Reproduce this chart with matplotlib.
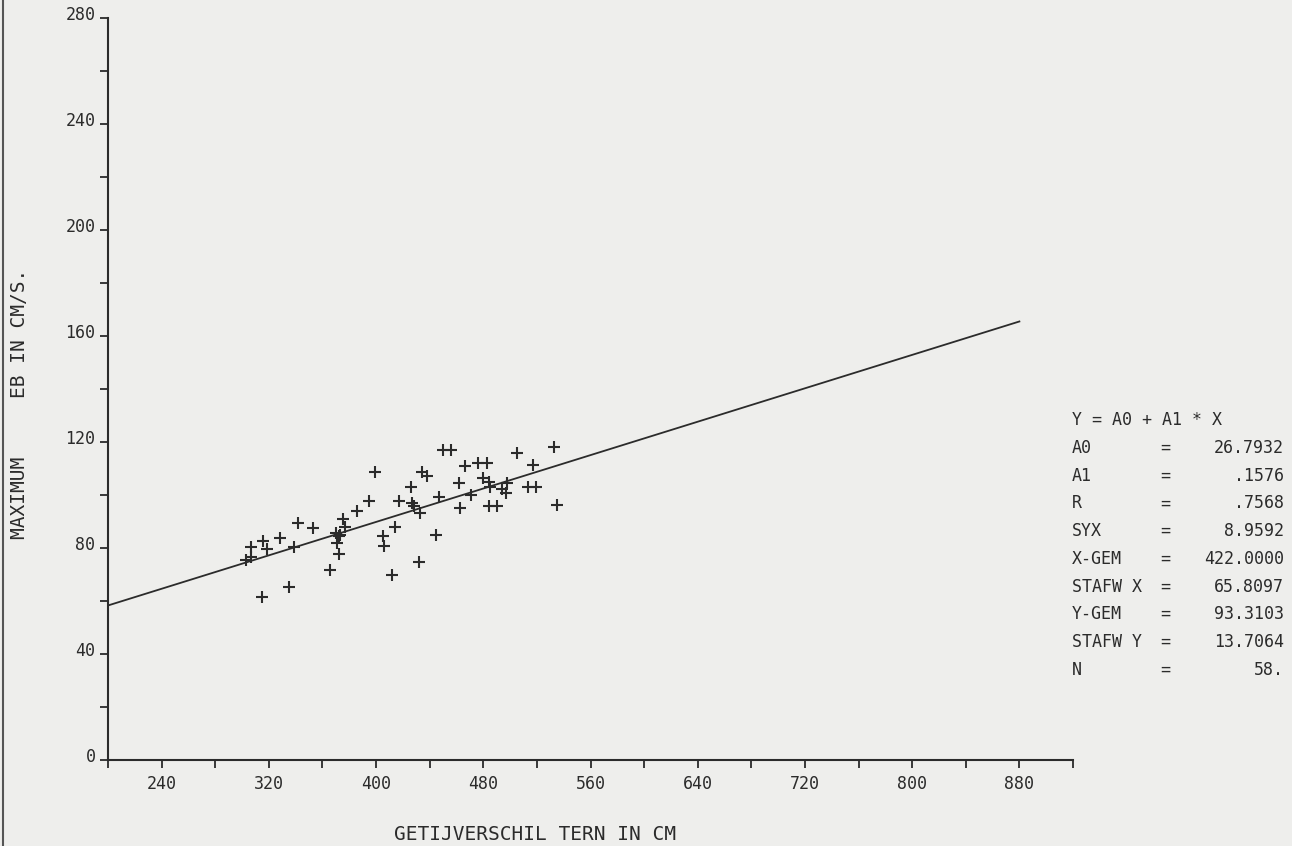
import matplotlib.pyplot as plt
import matplotlib.transforms as mtransforms
from matplotlib.lines import Line2D

# getijverschil (cm) and maximum eb-stroomsnelheid (cm/s)
tide_range = [303, 307, 307, 316, 319, 328, 339, 342, 353, 315,
              335, 366, 375, 377, 370, 372, 371, 372, 386, 395,
              399, 405, 406, 412, 414, 417, 426, 427, 428, 433,
              432, 434, 438, 445, 447, 450, 456, 462, 463, 466,
              471, 476, 483, 480, 484, 485, 484, 490, 494, 497,
              498, 505, 513, 519, 517, 533, 535, 373]
max_ebb = [75.5, 76.6, 80.4, 82.6, 79.6, 83.8, 80.4, 89.4, 87.5, 61.5,
           65.3, 71.7, 90.9, 87.9, 85.7, 84.5, 81.9, 77.7, 94.0, 97.7,
           108.7, 84.5, 80.8, 69.8, 87.9, 97.7, 103.0, 97.0, 95.8, 93.2,
           74.7, 108.7, 107.2, 84.9, 99.2, 117.0, 117.0, 104.5, 95.1, 111.0,
           100.0, 112.0, 112.0, 106.4, 104.9, 103.0, 95.8, 95.8, 102.3, 100.8,
           104.5, 115.8, 103.0, 103.0, 111.3, 118.0, 96.2, 85.0]

# regression results as printed on the plot
A0 = 26.7932
A1 = 0.1576
line_x = [200, 880]

stat_names = ['A0', 'A1', 'R', 'SYX', 'X-GEM', 'STAFW X', 'Y-GEM', 'STAFW Y', 'N']
stat_values = ['26.7932', '.1576', '.7568', '8.9592', '422.0000',
               '65.8097', '93.3103', '13.7064', '58.']

x_ticks = list(range(200, 921, 40))
x_labels = [str(v) if v in (240, 320, 400, 480, 560, 640, 720, 800, 880) else '' for v in x_ticks]
y_ticks = list(range(0, 281, 20))
y_labels = [str(v) if v % 40 == 0 else '' for v in y_ticks]

ink = '#2b2b2b'
paper = '#eeeeec'
mono = ['DejaVu Sans Mono']

fig = plt.figure(figsize=(12.92, 8.46), dpi=100, facecolor=paper)
ax = fig.add_axes([108 / 1292, 1 - 760 / 846, (1073 - 108) / 1292, (760 - 18) / 846])
ax.set_facecolor(paper)

ax.plot(tide_range, max_ebb, linestyle='none', marker='+', markersize=8,
        markeredgewidth=1.5, color=ink)
ax.plot(line_x, [A0 + A1 * v for v in line_x], color=ink, lw=1.3)

ax.set_xlim(200, 920)
ax.set_ylim(0, 280)
for s in ['top', 'right']:
    ax.spines[s].set_visible(False)
for s in ['left', 'bottom']:
    ax.spines[s].set_color(ink)
    ax.spines[s].set_linewidth(1.5)

ax.set_xticks(x_ticks)
ax.set_xticklabels(x_labels, family=mono, fontsize=12, color=ink)
ax.set_yticks(y_ticks)
ax.set_yticklabels(y_labels, family=mono, fontsize=12, color=ink)
ax.tick_params(axis='both', direction='out', length=6, width=1.3, color=ink)
ax.tick_params(axis='x', pad=5)
ax.tick_params(axis='y', pad=3)
shift = mtransforms.ScaledTranslation(0, 5 / 100, fig.dpi_scale_trans)
for lbl in ax.get_yticklabels():
    lbl.set_transform(lbl.get_transform() + shift)

fig.text(535 / 1292, 1 - 834 / 846, 'GETIJVERSCHIL TERN IN CM', family=mono,
         fontsize=14, color=ink, ha='center', va='center')
fig.text(20 / 1292, 1 - 404 / 846, 'MAXIMUM     EB IN CM/S.', family=mono,
         fontsize=14, color=ink, ha='center', va='center', rotation=90)

# statistics block on the right
fig.text(1072 / 1292, 1 - 420 / 846, 'Y = A0 + A1 * X', family=mono,
         fontsize=12, color=ink, ha='left', va='center')
for i, (name, val) in enumerate(zip(stat_names, stat_values)):
    yy = 1 - (448 + i * 27.7) / 846
    fig.text(1072 / 1292, yy, name, family=mono, fontsize=12, color=ink, ha='left', va='center')
    fig.text(1165 / 1292, yy, '=', family=mono, fontsize=12, color=ink, ha='center', va='center')
    fig.text(1284 / 1292, yy, val, family=mono, fontsize=12, color=ink, ha='right', va='center')

# dark scan edge at the left border
fig.add_artist(Line2D([0.002, 0.002], [0, 1], color='#555555', lw=1.5))

fig.savefig('out.png', dpi=100, facecolor=paper)
